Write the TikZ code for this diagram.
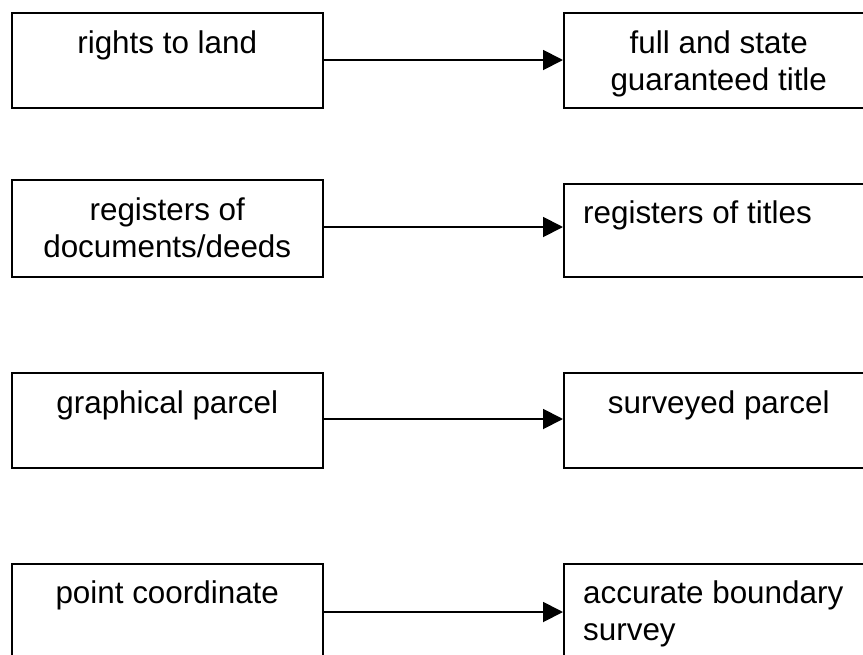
\documentclass[tikz,border=0pt]{standalone}
\usepackage{fontspec}
\setmainfont{Liberation Sans}
\usetikzlibrary{arrows.meta,calc}

\tikzset{
  stagebox/.style={draw=black, line width=1.5pt, fill=white, inner sep=0pt, anchor=north west},
  label/.style={inner sep=0pt, font=\fontsize{31.4}{37}\selectfont},
  ctext/.style={label, anchor=base},
  ltext/.style={label, anchor=base west},
  flow/.style={line width=1.9pt, -{Triangle[length=20pt, width=20pt]}}
}
\newcommand{\twolines}[3]{\begin{tabular}[t]{@{}#1@{}}#2\\#3\end{tabular}}

\begin{document}
\begin{tikzpicture}[x=1pt, y=-1pt]
  \useasboundingbox (0,0) rectangle (863,654);
  \clip (0,0) rectangle (863,654);
  \fill[white] (0,0) rectangle (863,654);

  % left column: traditional elements
  \node[stagebox, minimum width=311pt, minimum height=95pt] (l1) at (11,12) {};
  \node[stagebox, minimum width=311pt, minimum height=97pt] (l2) at (11,179) {};
  \node[stagebox, minimum width=311pt, minimum height=95pt] (l3) at (11,372) {};
  \node[stagebox, minimum width=311pt, minimum height=95pt] (l4) at (11,563) {};

  % right column: improved elements (running past the page edge)
  \node[stagebox, minimum width=310pt, minimum height=95pt] (r1) at (563,12) {};
  \node[stagebox, minimum width=310pt, minimum height=93pt] (r2) at (563,183) {};
  \node[stagebox, minimum width=310pt, minimum height=95pt] (r3) at (563,372) {};
  \node[stagebox, minimum width=310pt, minimum height=95pt] (r4) at (563,563) {};

  % texts
  \node[ctext] (t1) at ($(l1.north)+(0,41)$) {rights to land};
  \node[ctext] (t2) at ($(l2.north)+(0,41)$) {\twolines{c}{registers of}{documents/deeds}};
  \node[ctext] (t3) at ($(l3.north)+(0,41)$) {graphical parcel};
  \node[ctext] (t4) at ($(l4.north)+(0,40)$) {point coordinate};

  \node[ctext] (u1) at ($(r1.north)+(0,41)$) {\twolines{c}{full and state}{guaranteed title}};
  \node[ltext] (u2) at ($(r2.north west)+(20,40)$) {registers of titles};
  \node[ctext] (u3) at ($(r3.north)+(0,41)$) {surveyed parcel};
  \node[ltext] (u4) at ($(r4.north west)+(20,40)$) {\twolines{l}{accurate boundary}{survey}};

  % connectors
  \draw[flow] (l1.east |- 0,60) -- (r1.west |- 0,60);
  \draw[flow] (l2.east |- 0,227) -- (r2.west |- 0,227);
  \draw[flow] (l3.east |- 0,419) -- (r3.west |- 0,419);
  \draw[flow] (l4.east |- 0,612) -- (r4.west |- 0,612);
\end{tikzpicture}
\end{document}
